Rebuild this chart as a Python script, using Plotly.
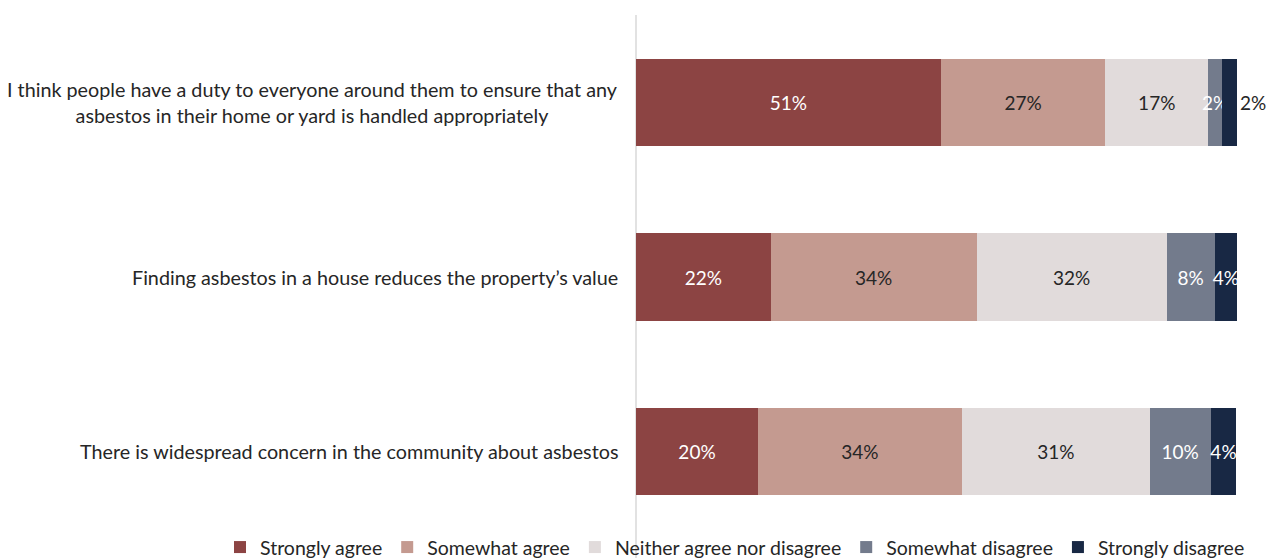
import plotly.graph_objects as go

statements = [
    "I think people have a duty to everyone around them to ensure that any<br>asbestos in their home or yard is handled appropriately",
    "Finding asbestos in a house reduces the property\u2019s value",
    "There is widespread concern in the community about asbestos",
]
series_names = ["Strongly agree", "Somewhat agree", "Neither agree nor disagree",
                "Somewhat disagree", "Strongly disagree"]
strongly_agree = [50.7, 22.4, 20.3]
somewhat_agree = [27.4, 34.3, 33.9]
neither = [17.1, 31.6, 31.3]
somewhat_disagree = [2.3, 8.0, 10.1]
strongly_disagree = [2.5, 3.7, 4.3]

series_values = [strongly_agree, somewhat_agree, neither, somewhat_disagree, strongly_disagree]
colors = ["#8C4443", "#C49A90", "#E1DBDB", "#737B8C", "#182844"]
text_colors = ["#FFFFFF", "#262626", "#262626", "#FFFFFF", "#FFFFFF"]

FONT = "Lato, 'Open Sans', sans-serif"
DARK = "#262626"

fig = go.Figure()
for name, vals, col, tcol in zip(series_names, series_values, colors, text_colors):
    positions = ["inside"] * len(vals)
    fonts = [tcol] * len(vals)
    if name == "Strongly disagree":
        positions[0] = "outside"
        fonts[0] = DARK
    fig.add_trace(go.Bar(
        name=name,
        y=statements,
        x=vals,
        orientation="h",
        marker=dict(color=col, line=dict(width=0)),
        text=[f"{round(v)}%" for v in vals],
        textposition=positions,
        textangle=0,
        insidetextanchor="middle",
        constraintext="none",
        textfont=dict(family=FONT, size=19, color=fonts),
        outsidetextfont=dict(family=FONT, size=19, color=DARK),
        cliponaxis=False,
        hoverinfo="skip",
    ))

# Category labels, centred line by line to the left of the axis
for s in statements:
    fig.add_annotation(
        x=-0.027, xref="paper", y=s, yref="y",
        text=s, showarrow=False, xanchor="right", yanchor="middle",
        align="center", font=dict(family=FONT, size=19.75, color=DARK),
    )

# Axis line running down through the legend area
fig.add_shape(type="line", xref="paper", yref="paper", x0=0, x1=0, y0=-0.07, y1=1,
              line=dict(color="#D9D9D9", width=1.5), layer="below")

fig.update_layout(
    width=1267, height=558,
    margin=dict(l=636, r=30, t=14.5, b=18.5, autoexpand=False),
    barmode="stack",
    bargap=0.5,
    plot_bgcolor="white", paper_bgcolor="white",
    font=dict(family=FONT, size=19, color=DARK),
    xaxis=dict(range=[0, 100], showgrid=False, zeroline=False, showticklabels=False,
               showline=False, ticks=""),
    yaxis=dict(autorange="reversed", showticklabels=False, showgrid=False,
               zeroline=False, showline=False, ticks=""),
    legend=dict(orientation="h", xref="paper", yref="paper",
                x=(220 - 636) / 601, xanchor="left", y=-0.016, yanchor="middle",
                font=dict(family=FONT, size=19.5, color=DARK),
                itemwidth=30, traceorder="normal", tracegroupgap=0,
                bgcolor="rgba(0,0,0,0)"),
    showlegend=True,
)

fig.write_html("out.html")
